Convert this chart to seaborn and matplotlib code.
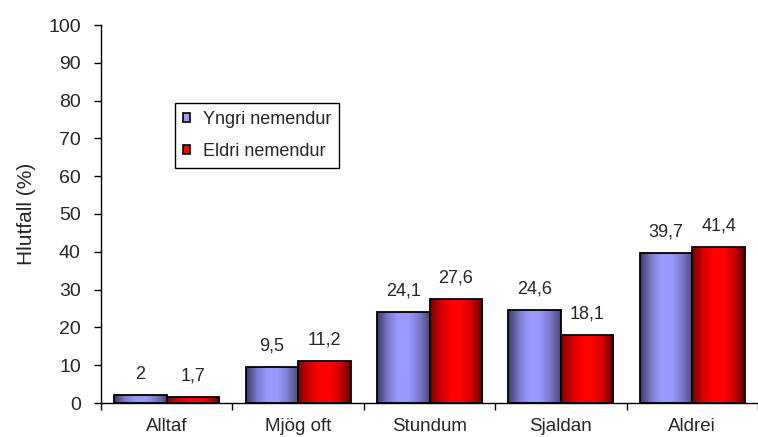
import matplotlib
matplotlib.use('Agg')
import matplotlib.pyplot as plt
import seaborn as sns
import pandas as pd
import numpy as np
from matplotlib.colors import LinearSegmentedColormap
from matplotlib.patches import Patch

categories = ['Alltaf', 'Mjög oft', 'Stundum', 'Sjaldan', 'Aldrei']
series_names = ['Yngri nemendur', 'Eldri nemendur']
yngri = [2, 9.5, 24.1, 24.6, 39.7]
eldri = [1.7, 11.2, 27.6, 18.1, 41.4]
labels_yngri = ['2', '9,5', '24,1', '24,6', '39,7']
labels_eldri = ['1,7', '11,2', '27,6', '18,1', '41,4']

colors = ['#9999FF', '#FF0000']
gradients = [
    ['#3c3c66', '#7a7acc', '#9999ff', '#9999ff', '#7a7acc', '#4a4a80'],
    ['#7a0000', '#d00000', '#ff0000', '#ff0000', '#cc0000', '#660000'],
]

df = pd.DataFrame({
    'cat': categories * 2,
    'val': yngri + eldri,
    'grp': [series_names[0]] * 5 + [series_names[1]] * 5,
})

sns.set_style('white')
plt.rcParams['font.family'] = ['Liberation Sans', 'DejaVu Sans']

fig = plt.figure(figsize=(7.58, 4.37), dpi=100)
ax = fig.add_axes([101 / 758, 1 - 403 / 437, 1 - 101 / 758, (403 - 25) / 437])

sns.barplot(data=df, x='cat', y='val', hue='grp', palette=colors,
            order=categories, hue_order=series_names, ax=ax,
            edgecolor='black', linewidth=1.3, legend=False, saturation=1)

# gradient fill inside each bar
for i, cont in enumerate(ax.containers):
    cmap = LinearSegmentedColormap.from_list('g%d' % i, gradients[i])
    grad = np.linspace(0, 1, 64).reshape(1, -1)
    for bar in cont:
        x, y = bar.get_x(), bar.get_y()
        w, h = bar.get_width(), bar.get_height()
        im = ax.imshow(grad, cmap=cmap, aspect='auto',
                       extent=[x, x + w, y, y + h], zorder=2)
        im.set_clip_path(bar)
        bar.set_facecolor('none')
        bar.set_zorder(3)

for cont, labs in zip(ax.containers, [labels_yngri, labels_eldri]):
    ax.bar_label(cont, labels=labs, padding=9, fontsize=13)

ax.set_xlim(-0.5, 4.44)
ax.set_ylim(0, 100)
ax.set_yticks(range(0, 101, 10))
ax.set_xlabel('')
ax.set_ylabel('Hlutfall (%)', fontsize=15, labelpad=9)

ax.set_xticks(range(len(categories)))
ax.set_xticklabels(categories, fontsize=13.5)
ax.set_xticks(np.arange(-0.5, 4.6, 1), minor=True)
ax.tick_params(axis='x', which='major', length=0, pad=11)
ax.tick_params(axis='x', which='minor', length=5, width=1, color='black', direction='out', bottom=True)
ax.tick_params(axis='y', length=5, width=1, color='black', direction='out', left=True,
               labelsize=14, pad=9.5)

sns.despine(ax=ax, top=True, right=True)
for s in ['left', 'bottom']:
    ax.spines[s].set_color('black')
    ax.spines[s].set_linewidth(1)

handles = [Patch(facecolor=c, edgecolor='black', linewidth=1.2) for c in colors]
leg = fig.legend(handles, series_names, loc='upper left',
                 bbox_to_anchor=(175 / 758, 1 - 103 / 437), borderaxespad=0,
                 fancybox=False, framealpha=1, edgecolor='black',
                 fontsize=13, handlelength=0.4, handleheight=0.4,
                 handletextpad=0.7, labelspacing=0.8, borderpad=0.45)
leg.get_frame().set_linewidth(1)

fig.savefig('out.png', dpi=100)
